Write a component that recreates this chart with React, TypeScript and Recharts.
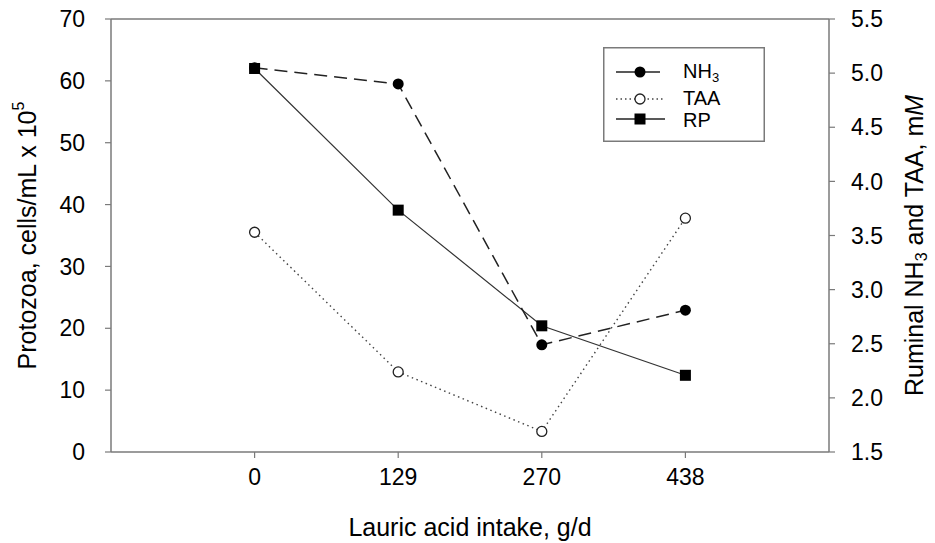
import React from "react";
import {
  LineChart,
  Line,
  XAxis,
  YAxis,
  Legend,
  ReferenceLine,
} from "recharts";

const intake = ["0", "129", "270", "438"];
const rp = [62.0, 39.1, 20.4, 12.4];
const nh3 = [5.05, 4.9, 2.49, 2.81];
const taa = [3.53, 2.24, 1.69, 3.66];

const leftTicks = [0, 10, 20, 30, 40, 50, 60, 70];
const rightTicks = [1.5, 2.0, 2.5, 3.0, 3.5, 4.0, 4.5, 5.0, 5.5];

const data = intake.map((x, i) => ({
  intake: x,
  rp: rp[i],
  nh3: nh3[i],
  taa: taa[i],
}));

const FONT = "'Liberation Sans', Arial, Helvetica, sans-serif";
const AXIS = "#7a7a7a";

const FilledDot = (props: any) => {
  const { cx, cy } = props;
  return <circle cx={cx} cy={cy} r={5.5} fill="#000" stroke="none" />;
};
const OpenDot = (props: any) => {
  const { cx, cy } = props;
  return <circle cx={cx} cy={cy} r={5} fill="#fff" stroke="#222" strokeWidth={1.3} />;
};
const SquareDot = (props: any) => {
  const { cx, cy } = props;
  return <rect x={cx - 5.5} y={cy - 5.5} width={11} height={11} fill="#000" />;
};

const LeftLabel = (props: any) => {
  const { viewBox } = props;
  const cy = viewBox.y + viewBox.height / 2;
  return (
    <text
      x={27}
      y={cy}
      transform={`rotate(-90, 27, ${cy})`}
      textAnchor="middle"
      dominantBaseline="central"
      fontFamily={FONT}
      fontSize={25}
      fill="#000"
    >
      Protozoa, cells/mL x 10
      <tspan dy={-9} fontSize={16}>5</tspan>
    </text>
  );
};

const RightLabel = (props: any) => {
  const { viewBox } = props;
  const cy = viewBox.y + viewBox.height / 2 + 10;
  const x = 914;
  return (
    <text
      x={x}
      y={cy}
      transform={`rotate(-90, ${x}, ${cy})`}
      textAnchor="middle"
      dominantBaseline="central"
      fontFamily={FONT}
      fontSize={25}
      fill="#000"
    >
      Ruminal NH
      <tspan dy={7} fontSize={16}>3</tspan>
      <tspan dy={-7}> and TAA, m</tspan>
      <tspan fontStyle="italic">M</tspan>
    </text>
  );
};

const XLabel = (props: any) => {
  const { viewBox } = props;
  const cx = viewBox.x + viewBox.width / 2;
  return (
    <text
      x={cx}
      y={527}
      textAnchor="middle"
      dominantBaseline="central"
      fontFamily={FONT}
      fontSize={25}
      fill="#000"
    >
      Lauric acid intake, g/d
    </text>
  );
};

const LegendBox = () => (
  <svg width={162} height={95} style={{ display: "block" }}>
    <rect x={0.75} y={0.75} width={160.5} height={93.5} fill="#fff" stroke={AXIS} strokeWidth={1.5} />
    <line x1={13} y1={25} x2={57} y2={25} stroke="#222" strokeWidth={1.5} />
    <circle cx={37} cy={25} r={5.5} fill="#000" />
    <line x1={13} y1={52} x2={62} y2={52} stroke="#444" strokeWidth={1.3} strokeDasharray="1.5 3" />
    <circle cx={37} cy={52} r={5} fill="#fff" stroke="#222" strokeWidth={1.3} />
    <line x1={13} y1={72} x2={62} y2={72} stroke="#222" strokeWidth={1.5} />
    <rect x={31.5} y={66.5} width={11} height={11} fill="#000" />
    <g fontFamily={FONT} fontSize={20} fill="#000">
      <text x={80} y={31}>
        NH<tspan dy={4} fontSize={13}>3</tspan>
      </text>
      <text x={80} y={58}>TAA</text>
      <text x={80} y={80}>RP</text>
    </g>
  </svg>
);

export default function App() {
  return (
    <div style={{ position: "absolute", left: 0, top: 0, background: "#fff" }}>
      <LineChart
        width={935}
        height={543}
        data={data}
        margin={{ top: 19, right: 0, bottom: 0, left: 0 }}
      >
        <XAxis
          dataKey="intake"
          type="category"
          padding={{ left: 143.6, right: 143.6 }}
          axisLine={{ stroke: AXIS, strokeWidth: 1.5 }}
          tickLine={{ stroke: AXIS, strokeWidth: 1.2 }}
          tickSize={6}
          tickMargin={11}
          tick={{ fill: "#000", fontSize: 23, fontFamily: FONT }}
          height={91}
          label={<XLabel />}
        />
        <YAxis
          yAxisId="left"
          orientation="left"
          domain={[0, 70]}
          ticks={leftTicks}
          interval={0}
          width={111}
          axisLine={{ stroke: AXIS, strokeWidth: 1.5 }}
          tickLine={{ stroke: AXIS, strokeWidth: 1.2 }}
          tickSize={6}
          tickMargin={20}
          tick={{ fill: "#000", fontSize: 23, fontFamily: FONT }}
          label={<LeftLabel />}
        />
        <YAxis
          yAxisId="right"
          orientation="right"
          domain={[1.5, 5.5]}
          ticks={rightTicks}
          interval={0}
          width={106}
          tickFormatter={(v: number) => v.toFixed(1)}
          axisLine={{ stroke: AXIS, strokeWidth: 1.5 }}
          tickLine={{ stroke: AXIS, strokeWidth: 1.2 }}
          tickSize={6}
          tickMargin={16}
          tick={{ fill: "#000", fontSize: 23, fontFamily: FONT }}
          label={<RightLabel />}
        />
        <ReferenceLine yAxisId="left" y={70} stroke={AXIS} strokeWidth={1.5} />
        <Line
          yAxisId="left"
          dataKey="rp"
          name="RP"
          stroke="#333"
          strokeWidth={1.2}
          dot={<SquareDot />}
          activeDot={false}
          isAnimationActive={false}
        />
        <Line
          yAxisId="right"
          dataKey="taa"
          name="TAA"
          stroke="#444"
          strokeWidth={1.4}
          strokeDasharray="1.5 3.5"
          dot={<OpenDot />}
          activeDot={false}
          isAnimationActive={false}
        />
        <Line
          yAxisId="right"
          dataKey="nh3"
          name="NH3"
          stroke="#222"
          strokeWidth={1.5}
          strokeDasharray="13 7"
          dot={<FilledDot />}
          activeDot={false}
          isAnimationActive={false}
        />
        <Legend
          layout="vertical"
          align="center"
          verticalAlign="middle"
          content={<LegendBox />}
          wrapperStyle={{ left: 603, top: 47, width: 162, height: 95 }}
        />
      </LineChart>
    </div>
  );
}
